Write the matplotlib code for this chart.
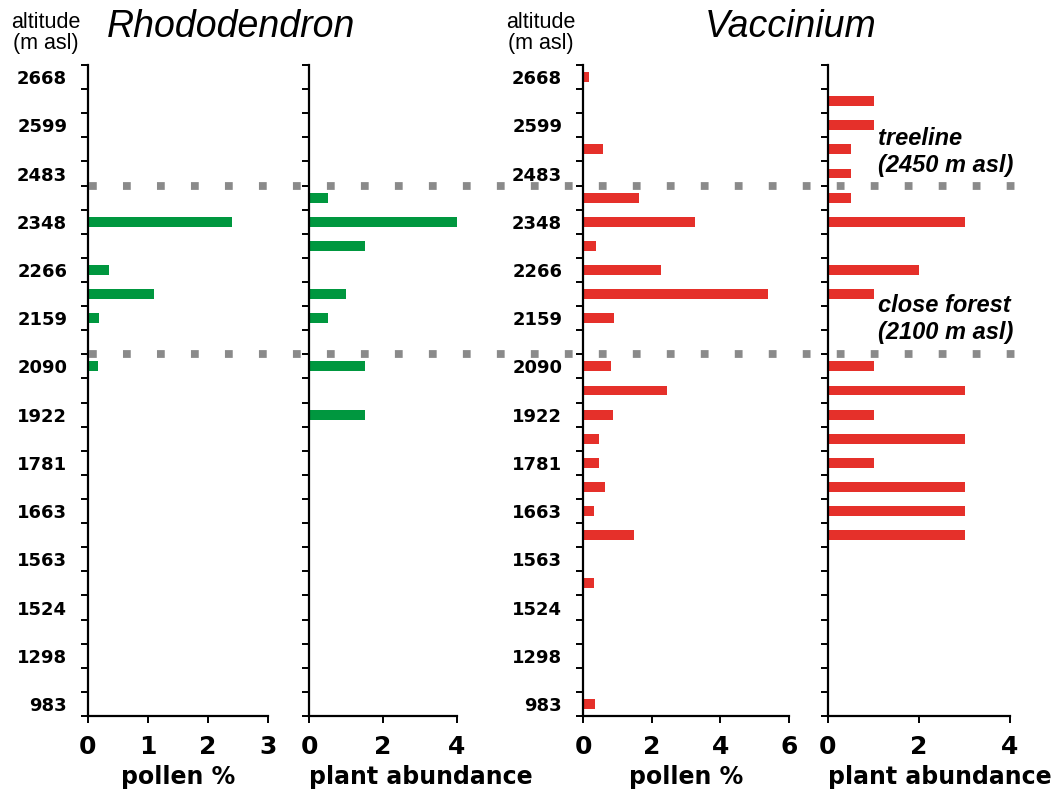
import numpy as np
import matplotlib.pyplot as plt
from matplotlib.lines import Line2D
from matplotlib import transforms

# 采样点（从上到下，每隔一个标注海拔）
alt_labels = ['2668', '', '2599', '', '2483', '', '2348', '', '2266', '', '2159', '', '2090', '',
              '1922', '', '1781', '', '1663', '', '1563', '', '1524', '', '1298', '', '983']

rhodo_pollen = [0, 0, 0, 0, 0, 0, 2.4, 0, 0.35, 1.1, 0.18, 0, 0.16, 0,
                0, 0, 0, 0, 0, 0, 0, 0, 0, 0, 0, 0, 0]
rhodo_plant = [0, 0, 0, 0, 0, 0.5, 4, 1.5, 0, 1, 0.5, 0, 1.5, 0,
               1.5, 0, 0, 0, 0, 0, 0, 0, 0, 0, 0, 0, 0]
vacc_pollen = [0.18, 0, 0, 0.57, 0, 1.62, 3.25, 0.37, 2.27, 5.39, 0.91, 0, 0.81, 2.44,
               0.88, 0.47, 0.47, 0.65, 0.33, 1.49, 0, 0.33, 0, 0, 0, 0, 0.34]
vacc_plant = [0, 1, 1, 0.5, 0.5, 0.5, 3, 0, 2, 1, 0, 0, 1, 3,
              1, 3, 1, 3, 3, 3, 0, 0, 0, 0, 0, 0, 0]

# 林线 / 郁闭森林界线（位于采样点之间）
zone_breaks = [4.5, 11.5]

green = '#00973f'
red = '#e5302a'
n = len(alt_labels)
pos = np.arange(n)

W, H = 1064, 793
fig = plt.figure(figsize=(W / 100, H / 100), dpi=100)


def px(x0, x1):
    return [x0 / W, (H - 716) / H, (x1 - x0) / W, (716 - 65) / H]


def panel(rect, values, color, xmax, xticks, xlabel, show_alt, label_loc):
    ax = fig.add_axes(rect)
    ax.barh(pos, values, height=0.41, color=color)
    ax.set_ylim(n - 0.5, -0.5)
    ax.set_xlim(0, xmax)
    for s in ['top', 'right']:
        ax.spines[s].set_visible(False)
    for s in ['left', 'bottom']:
        ax.spines[s].set_linewidth(1.6)
    # 刻度在采样点边界，标签在采样点中心
    ax.set_yticks(np.arange(-0.5, n, 1))
    ax.set_yticklabels([])
    ax.tick_params(axis='y', which='major', length=5, width=1.4)
    if show_alt:
        ax.set_yticks(pos, minor=True)
        ax.set_yticklabels(alt_labels, minor=True, fontsize=13, fontweight='bold')
        ax.tick_params(axis='y', which='minor', length=0, pad=15)
    ax.set_xticks(xticks)
    ax.set_xticklabels([str(t) for t in xticks], fontsize=18, fontweight='bold')
    ax.tick_params(axis='x', length=5, width=1.4, pad=9)
    ax.set_xlabel(xlabel, fontsize=17, fontweight='bold', labelpad=4, loc=label_loc)
    return ax


ax1 = panel(px(88, 268), rhodo_pollen, green, 3, [0, 1, 2, 3], 'pollen %', True, 'center')
ax2 = panel(px(309, 457), rhodo_plant, green, 4, [0, 2, 4], 'plant abundance', False, 'left')
ax3 = panel(px(583, 789), vacc_pollen, red, 6, [0, 2, 4, 6], 'pollen %', True, 'center')
ax4 = panel(px(828, 1010), vacc_plant, red, 4, [0, 2, 4], 'plant abundance', False, 'left')

# 灰色方点虚线贯穿四个面板
trans = transforms.blended_transform_factory(fig.transFigure, ax1.transData)
for yb in zone_breaks:
    fig.add_artist(Line2D([89 / W, 1016 / W], [yb, yb], transform=trans,
                          color='#8a8a8a', lw=5.6, dashes=(1, 3.37),
                          solid_capstyle='butt', dash_capstyle='butt'))

title_font = dict(family='Liberation Sans', style='italic', fontsize=27)
fig.text(231 / W, 1 - 37 / H, 'Rhododendron', ha='center', va='baseline', **title_font)
fig.text(791 / W, 1 - 37 / H, 'Vaccinium', ha='center', va='baseline', **title_font)

alt_font = dict(family='Liberation Sans', fontsize=15.5, linespacing=1.0)
fig.text(46 / W, 1 - 12 / H, 'altitude\n(m asl)', ha='center', va='top', **alt_font)
fig.text(541 / W, 1 - 12 / H, 'altitude\n(m asl)', ha='center', va='top', **alt_font)

note_font = dict(family='Liberation Sans', style='italic', fontweight='bold', fontsize=17)
fig.text(878 / W, 1 - 127 / H, 'treeline\n(2450 m asl)', ha='left', va='top', **note_font)
fig.text(878 / W, 1 - 294 / H, 'close forest\n(2100 m asl)', ha='left', va='top', **note_font)

plt.savefig('out.png', dpi=100, facecolor='white')
